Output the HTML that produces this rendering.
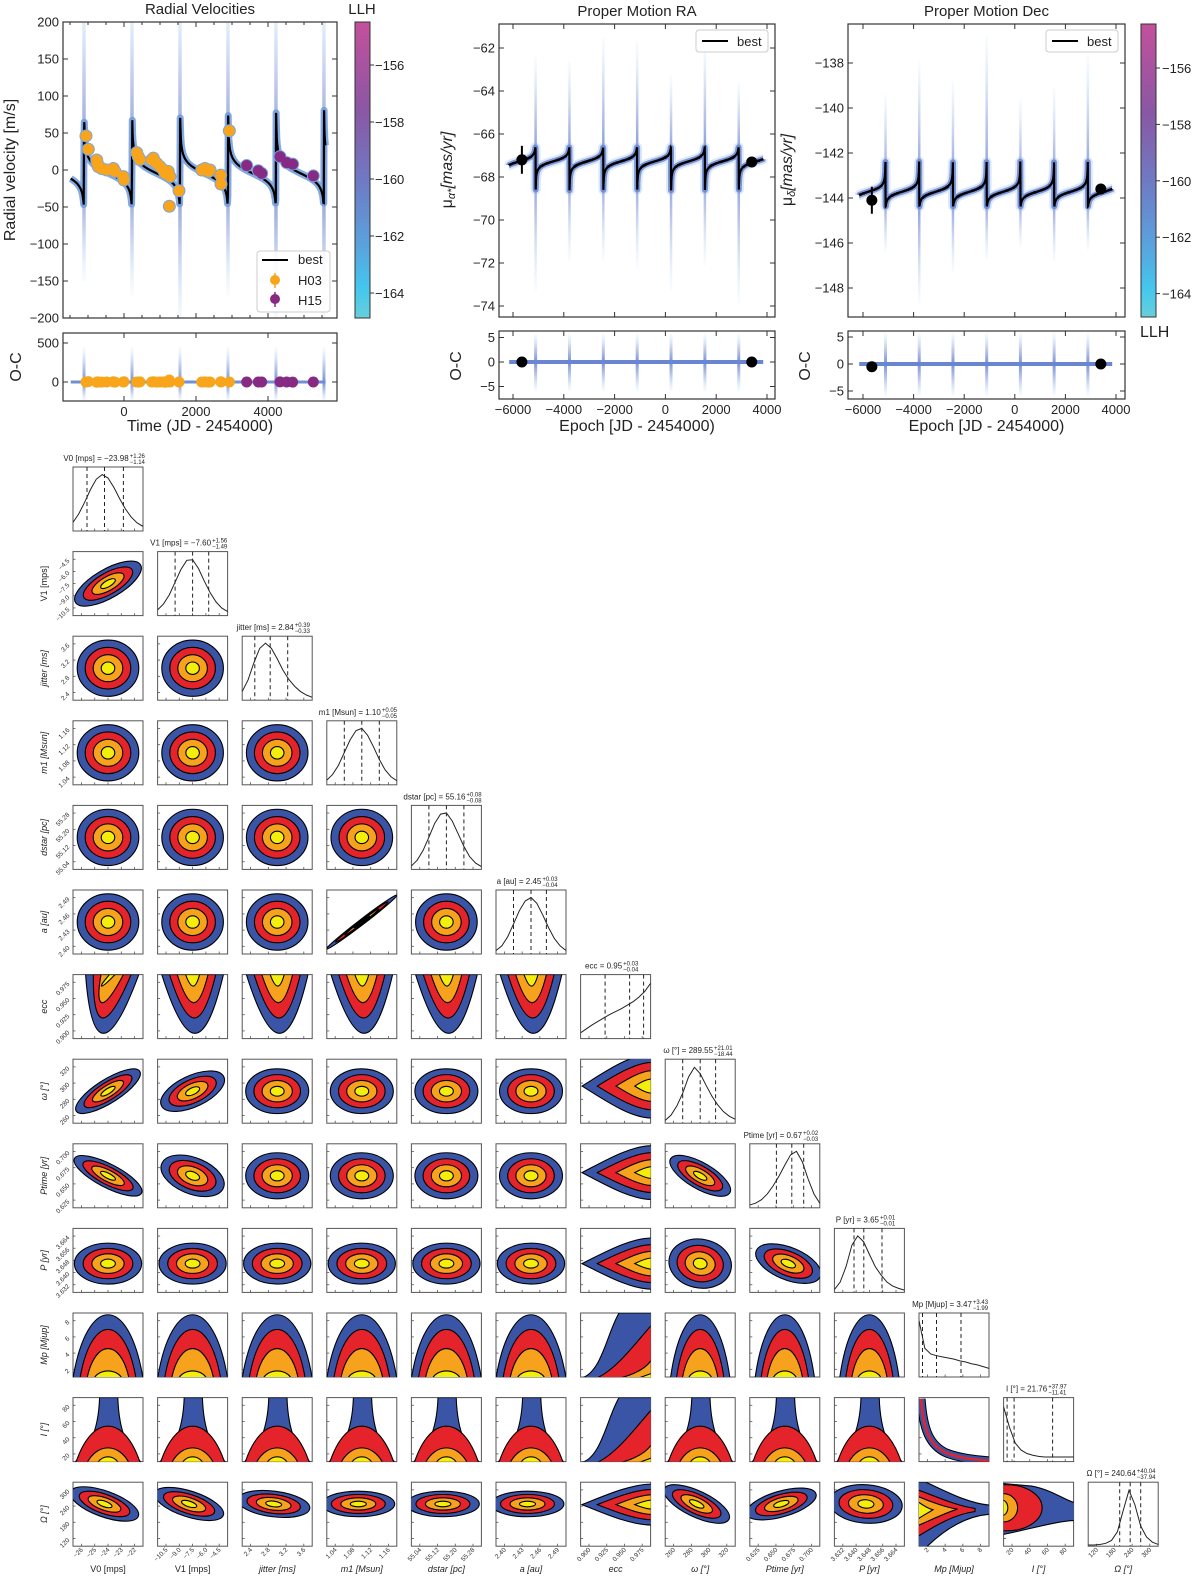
<!DOCTYPE html>
<html><head><meta charset="utf-8"><style>
html,body{margin:0;padding:0;background:#fff;}
svg{display:block;font-family:"Liberation Sans","DejaVu Sans",sans-serif;}
</style></head><body>
<svg id="fig" width="1200" height="1578" viewBox="0 0 1200 1578" xmlns="http://www.w3.org/2000/svg">
<defs>
<linearGradient id="cbar" x1="0" y1="0" x2="0" y2="1">
<stop offset="0" stop-color="#c4509c"/><stop offset="0.3" stop-color="#8a57a4"/><stop offset="0.55" stop-color="#6e7cc6"/><stop offset="0.75" stop-color="#5aa2dc"/><stop offset="0.9" stop-color="#44c6ee"/><stop offset="1" stop-color="#66d0dc"/></linearGradient>
<linearGradient id="gUp" x1="0" y1="1" x2="0" y2="0"><stop offset="0" stop-color="#5f7fd0" stop-opacity="0.85"/><stop offset="0.45" stop-color="#6f86d0" stop-opacity="0.45"/><stop offset="1" stop-color="#8fc8f0" stop-opacity="0.05"/></linearGradient>
<linearGradient id="gDown" x1="0" y1="0" x2="0" y2="1"><stop offset="0" stop-color="#5f7fd0" stop-opacity="0.85"/><stop offset="0.45" stop-color="#6f86d0" stop-opacity="0.45"/><stop offset="1" stop-color="#8fc8f0" stop-opacity="0.05"/></linearGradient>
<clipPath id="clipRV"><rect x="63" y="22" width="274" height="296"/></clipPath>
<clipPath id="clipRVoc"><rect x="63" y="333" width="274" height="68"/></clipPath>
<clipPath id="clipRA"><rect x="499" y="24" width="276" height="293"/></clipPath>
<clipPath id="clipRAoc"><rect x="499" y="331" width="276" height="68"/></clipPath>
<clipPath id="clipDec"><rect x="848" y="24" width="277" height="293"/></clipPath>
<clipPath id="clipDecoc"><rect x="848" y="331" width="277" height="68"/></clipPath>
</defs>
</svg>
<script>
// ---------------- data ----------------
const h03Time=[-1056,-991,-759,-741,-713,-620,-481,-296,-250,-19,0,352,398,444,769,815,907,1000,1093,1139,1231,1278,1259,1528,2158,2250,2343,2389,2685,2694,2926];
const h03RV=[46,28,13.5,9,4.5,2,0,2,-2,-9,-13.5,23.5,18,14,13.5,16,9,4.5,0,-4.5,-2,-9,-49,-28,0,2,-2,0,-7,-19,53];
const h03Res=[0,5,-3,2,0,-2,0,4,-1,0,3,0,-2,1,0,3,-1,0,2,-3,1,0,25,0,0,2,-1,0,3,0,0];
const h15Time=[3408,3731,3824,4333,4519,4685,5259];
const h15RV=[6,-1,-4.5,18,10,8,-8];
const h15Res=[0,0,0,2,0,-2,0];
const orbitPeriod=[1333];
const periTime=[222];
const orbitEcc=[0.95];
const rvK=[65], rvOmega=[290], rvOffset=[-3];
const raK=[1.0], raOmega=[110], raBase=[-67.3];
const decK=[1.0], decOmega=[70], decBase=[-143.7];
const rvSpikeTop=[260,260,260,260,260,260];
const rvSpikeBottom=[-150,-170,-210,-170,-210,-210];
const raSpikeTop=[-62.4,-62.6,-61.5,-61.7,-63.3,-61.8,-63.6];
const raSpikeBottom=[-73.3,-71.9,-71.9,-72.2,-73.3,-72.1,-73.9];
const decSpikeTop=[-139.4,-137.9,-138.8,-136.8,-139.6,-139.1,-137.6];
const decSpikeBottom=[-146.4,-148.7,-147.3,-146.7,-146.2,-146.8,-146.3];
const pmEpoch=[-5650,3400];
const raObs=[-67.2,-67.3], raErr=[0.65,0.05], raRes=[0,0];
const decObs=[-144.1,-143.6], decErr=[0.6,0.05], decRes=[-0.5,0];
const rvXTicks=[0,2000,4000], rvYTicks=[200,150,100,50,0,-50,-100,-150,-200], rvOcTicks=[500,0];
const pmXTicks=[-6000,-4000,-2000,0,2000,4000];
const raYTicks=[-62,-64,-66,-68,-70,-72,-74], decYTicks=[-138,-140,-142,-144,-146,-148], ocTicks=[5,0,-5];
const llhTicks=[-156,-158,-160,-162,-164];

// ---------------- helpers ----------------
const NS='http://www.w3.org/2000/svg';
const svg=document.getElementById('fig');
function mk(tag,attrs,parent){const e=document.createElementNS(NS,tag);for(const k in attrs)e.setAttribute(k,attrs[k]);(parent||svg).appendChild(e);return e;}
function txt(x,y,s,attrs,parent){const e=mk('text',Object.assign({x:x,y:y},attrs),parent);e.textContent=s;return e;}
function kep(t,P,tp,e,wdeg,K){
  let M=2*Math.PI*(t-tp)/P; M=((M%(2*Math.PI))+2*Math.PI)%(2*Math.PI);
  let E=M+e*Math.sin(M)*0.85;
  if(M<0.3)E=Math.cbrt(6*M); if(M>2*Math.PI-0.3)E=2*Math.PI-Math.cbrt(6*(2*Math.PI-M));
  for(let i=0;i<60;i++){E=E-(E-e*Math.sin(E)-M)/(1-e*Math.cos(E));}
  const nu=2*Math.atan2(Math.sqrt(1+e)*Math.sin(E/2),Math.sqrt(1-e)*Math.cos(E/2));
  const w=wdeg*Math.PI/180;
  return K*(Math.cos(nu+w)+e*Math.cos(w));
}
function frame(x,y,w,h,name){const r=mk('rect',{x:x,y:y,width:w,height:h,fill:'none',stroke:'#333','stroke-width':1.2});

return r;}

// ---------------- axis functions ----------------
const rvX=t=>124+t*0.036, rvY=v=>170-v*0.74, rvOcY=v=>382-v*0.078;
const raX=t=>513+(t+6000)*0.0254, raY=v=>48-(v+62)*21.5, raOcY=v=>362-v*4.9;
const decX=t=>863+(t+6000)*0.0253, decY=v=>63-(v+138)*22.5, decOcY=v=>364-v*5.4;

function modelPts(fx,fy,t0,t1,step,K,w,base){const pts=[];for(let t=t0;t<=t1;t+=step){pts.push(fx(t).toFixed(1)+','+fy(base+kep(t,orbitPeriod[0],periTime[0],orbitEcc[0],w,K)).toFixed(1));}return pts.join(' ');}
function peris(t0,t1){const a=[];let t=periTime[0];while(t>t0)t-=orbitPeriod[0];while(t<t1){if(t>=t0)a.push(t);t+=orbitPeriod[0];}return a;}

function drawSpikes(g,fx,fy,tops,bottoms,base,t0,t1,wd){
  peris(t0,t1).forEach((tp,i)=>{
    const x=fx(tp), yb=fy(base);
    const up=mk('rect',{x:x-wd/2,y:fy(tops[i%tops.length]),width:wd,height:Math.max(0,yb-fy(tops[i%tops.length])),fill:'url(#gUp)'},g);
    
    
    const dn=mk('rect',{x:x-wd/2,y:yb,width:wd,height:Math.max(0,fy(bottoms[i%bottoms.length])-yb),fill:'url(#gDown)'},g);
    
    
  });
}
function ticksX(vals,fx,y0,y1,labels,ly,parent){vals.forEach(v=>{const x=fx(v);
  mk('line',{x1:x,y1:y1,x2:x,y2:y1-5,stroke:'#333'},parent);mk('line',{x1:x,y1:y0,x2:x,y2:y0+5,stroke:'#333'},parent);
  if(labels){const t=txt(x,ly,String(v).replace('-','\u2212'),{'font-size':13,'text-anchor':'middle',fill:'#222'},parent);
  
  }});}
function ticksY(vals,fy,x0,x1,parent,fs){vals.forEach(v=>{const y=fy(v);
  mk('line',{x1:x0,y1:y,x2:x0+5,y2:y,stroke:'#333'},parent);mk('line',{x1:x1,y1:y,x2:x1-5,y2:y,stroke:'#333'},parent);
  const t=txt(x0-4,y+4.5,String(v).replace('-','\u2212'),{'font-size':fs||13,'text-anchor':'end',fill:'#222'},parent);
  
  });}
function dot(g,x,y,r,c,name){const d=mk('circle',{cx:x,cy:y,r:r,fill:c},g);
  
  return d;}

// ================= RV panel =================
const rvG=mk('g',{});


const rvT=txt(200,14,'Radial Velocities',{'font-size':15,'text-anchor':'middle',fill:'#222'},rvG);


const rvClip=mk('g',{'clip-path':'url(#clipRV)'},rvG);
drawSpikes(rvClip,rvX,rvY,rvSpikeTop,rvSpikeBottom,rvOffset[0],-1700,5900,3.5);
const rvPts=modelPts(rvX,rvY,-1480,5600,9,rvK[0],rvOmega[0],rvOffset[0]);
const rvHalo=mk('polyline',{points:rvPts,fill:'none',stroke:'#6f9bdc','stroke-width':7,'stroke-opacity':0.85,'stroke-linejoin':'round'},rvClip);


const rvBest=mk('polyline',{points:rvPts,fill:'none',stroke:'#000','stroke-width':2.2},rvClip);


h03Time.forEach((t,i)=>{dot(rvClip,rvX(t),rvY(h03RV[i]),6.5,'#7aa6de','h03-point-halo');});
h15Time.forEach((t,i)=>{dot(rvClip,rvX(t),rvY(h15RV[i]),6.5,'#7aa6de','h15-point-halo');});
h03Time.forEach((t,i)=>{dot(rvClip,rvX(t),rvY(h03RV[i]),5.5,'#f8a51c','h03-point');});
h15Time.forEach((t,i)=>{dot(rvClip,rvX(t),rvY(h15RV[i]),5.5,'#862a84','h15-point');});
frame(63,22,274,296,'rv-axes-frame');
ticksX(rvXTicks,rvX,22,318,false,0,rvG);
[-1500,-1000,-500,500,1000,1500,2500,3000,3500,4500,5000,5500].forEach(v=>{const x=rvX(v);mk('line',{x1:x,y1:318,x2:x,y2:315,stroke:'#333'},rvG);mk('line',{x1:x,y1:22,x2:x,y2:25,stroke:'#333'},rvG);});
ticksY(rvYTicks,rvY,63,337,rvG);
const rvYL=txt(0,0,'Radial velocity [m/s]',{'font-size':16,'text-anchor':'middle',fill:'#222',transform:'translate(15,170) rotate(-90)'},rvG);


const rvLeg=mk('g',{},rvG);


mk('rect',{x:257,y:251,width:73,height:61,rx:3,fill:'#fff','fill-opacity':0.85,stroke:'#ccc'},rvLeg);
mk('line',{x1:262,y1:260,x2:288,y2:260,stroke:'#000','stroke-width':2},rvLeg);
txt(298,264,'best',{'font-size':13,fill:'#222'},rvLeg);
mk('line',{x1:275,y1:273,x2:275,y2:288,stroke:'#f8a51c','stroke-width':1.5},rvLeg);dot(rvLeg,275,280,5,'#f8a51c','legend-h03-marker');
txt(298,285,'H03',{'font-size':13,fill:'#222'},rvLeg);
mk('line',{x1:275,y1:292,x2:275,y2:307,stroke:'#862a84','stroke-width':1.5},rvLeg);dot(rvLeg,275,299,5,'#862a84','legend-h15-marker');
txt(298,305,'H15',{'font-size':13,fill:'#222'},rvLeg);
const cb1=mk('rect',{x:355,y:22,width:15,height:296,fill:'url(#cbar)',stroke:'#333'},rvG);


const cbY1=v=>65+(-156-v)*28.5;
llhTicks.forEach(v=>{const y=cbY1(v);mk('line',{x1:370,y1:y,x2:374,y2:y,stroke:'#333'},rvG);const t=txt(375,y+5,String(v).replace('-','\u2212'),{'font-size':13,fill:'#222'},rvG);

});
const llh1=txt(362,14,'LLH',{'font-size':15,'text-anchor':'middle',fill:'#222'},rvG);


const rvOcClip=mk('g',{'clip-path':'url(#clipRVoc)'},rvG);
drawSpikes(rvOcClip,rvX,rvOcY,[450],[-250],0,-1700,5900,3);
const ocLine=mk('line',{x1:rvX(-1480),y1:rvOcY(0),x2:rvX(5600),y2:rvOcY(0),stroke:'#6f8fd6','stroke-width':3},rvOcClip);


h03Time.forEach((t,i)=>{dot(rvOcClip,rvX(t),rvOcY(h03Res[i]),5.5,'#f8a51c','h03-residual');});
h15Time.forEach((t,i)=>{dot(rvOcClip,rvX(t),rvOcY(h15Res[i]),5.5,'#862a84','h15-residual');});
frame(63,333,274,68,'rv-oc-axes-frame');
ticksX(rvXTicks,rvX,333,401,true,416,rvG);
ticksY(rvOcTicks,rvOcY,63,337,rvG);
const rvOcL=txt(0,0,'O-C',{'font-size':16,'text-anchor':'middle',fill:'#222',transform:'translate(21,367) rotate(-90)'},rvG);


const rvXL=txt(200,431,'Time (JD - 2454000)',{'font-size':16,'text-anchor':'middle',fill:'#222'},rvG);



// ================= PM panels =================
function pmPanel(o){
  const g=mk('g',{});
  
  
  const tt=txt((o.x0+o.x1)/2,16,o.title,{'font-size':15,'text-anchor':'middle',fill:'#222'},g);
  
  
  const c=mk('g',{'clip-path':'url(#'+o.clip+')'},g);
  drawSpikes(c,o.fx,o.fy,o.tops,o.bottoms,o.base,-6200,3900,2.5);
  const pts=modelPts(o.fx,o.fy,-6150,3850,3,o.K,o.w,o.base);
  const b2=mk('polyline',{points:pts,fill:'none',stroke:'#8fb6ea','stroke-width':10,'stroke-opacity':0.3,'stroke-linejoin':'round'},c);
  
  
  const b1=mk('polyline',{points:pts,fill:'none',stroke:'#6a86d2','stroke-width':6,'stroke-opacity':0.85,'stroke-linejoin':'round'},c);
  
  
  const best=mk('polyline',{points:pts,fill:'none',stroke:'#000','stroke-width':2.2},c);
  
  
  pmEpoch.forEach((t,i)=>{const x=o.fx(t);
    if(o.err[i]>0.1){const eb=mk('line',{x1:x,y1:o.fy(o.obs[i]+o.err[i]),x2:x,y2:o.fy(o.obs[i]-o.err[i]),stroke:'#000','stroke-width':2},c);
    
    }
    dot(c,x,o.fy(o.obs[i]),5.5,'#000','gaia-hipparcos-point');});
  frame(o.x0,24,o.x1-o.x0,293,'axes-frame');
  ticksY(o.yt,o.fy,o.x0,o.x1,g);
  const yl=txt(0,0,'\u03bc',{'font-size':16,'text-anchor':'middle',fill:'#222',transform:'translate('+o.ylx+',170) rotate(-90)'},g);
  const s1=mk('tspan',{'font-size':11,dy:3,'font-style':'italic'},yl);s1.textContent=o.sub;
  const s2=mk('tspan',{dy:-3,'font-style':'italic'},yl);s2.textContent='[mas/yr]';
  
  
  const lg=mk('g',{},g);
  
  
  mk('rect',{x:o.x1-79,y:30,width:72,height:22,rx:3,fill:'#fff','fill-opacity':0.9,stroke:'#ccc'},lg);
  mk('line',{x1:o.x1-73,y1:41,x2:o.x1-47,y2:41,stroke:'#000','stroke-width':2},lg);
  txt(o.x1-38,46,'best',{'font-size':13,fill:'#222'},lg);
  const oc=mk('g',{'clip-path':'url(#'+o.clipoc+')'},g);
  drawSpikes(oc,o.fx,o.ocy,[5.8],[-6],0,-6200,3900,3);
  const ob=mk('line',{x1:o.fx(-6150),y1:o.ocy(0),x2:o.fx(3850),y2:o.ocy(0),stroke:'#6a86d2','stroke-width':4},oc);
  
  
  pmEpoch.forEach((t,i)=>{dot(oc,o.fx(t),o.ocy(o.res[i]),5.5,'#000','residual-point');});
  frame(o.x0,331,o.x1-o.x0,68,'oc-axes-frame');
  ticksX(pmXTicks,o.fx,331,399,true,414,g);
  pmXTicks.forEach(v=>{const x=o.fx(v);mk('line',{x1:x,y1:317,x2:x,y2:312,stroke:'#333'},g);mk('line',{x1:x,y1:24,x2:x,y2:29,stroke:'#333'},g);});
  ticksY(ocTicks,o.ocy,o.x0,o.x1,g);
  const ol=txt(0,0,'O-C',{'font-size':16,'text-anchor':'middle',fill:'#222',transform:'translate('+(o.x0-38)+',366) rotate(-90)'},g);
  
  
  const xl=txt((o.x0+o.x1)/2,431,'Epoch [JD - 2454000)',{'font-size':16,'text-anchor':'middle',fill:'#222'},g);
  
  
  return g;
}
pmPanel({name:'proper-motion-ra-panel',title:'Proper Motion RA',x0:499,x1:775,fx:raX,fy:raY,ocy:raOcY,clip:'clipRA',clipoc:'clipRAoc',tops:raSpikeTop,bottoms:raSpikeBottom,base:raBase[0],K:raK[0],w:raOmega[0],obs:raObs,err:raErr,res:raRes,yt:raYTicks,ylx:452,sub:'\u03b1*'});
pmPanel({name:'proper-motion-dec-panel',title:'Proper Motion Dec',x0:848,x1:1125,fx:decX,fy:decY,ocy:decOcY,clip:'clipDec',clipoc:'clipDecoc',tops:decSpikeTop,bottoms:decSpikeBottom,base:decBase[0],K:decK[0],w:decOmega[0],obs:decObs,err:decErr,res:decRes,yt:decYTicks,ylx:792,sub:'\u03b4'});
const cb2=mk('rect',{x:1141,y:24,width:15,height:293,fill:'url(#cbar)',stroke:'#333'});


const cbY2=v=>68+(-156-v)*28.2;
llhTicks.forEach(v=>{const y=cbY2(v);mk('line',{x1:1156,y1:y,x2:1160,y2:y,stroke:'#333'});const t=txt(1162,y+5,String(v).replace('-','\u2212'),{'font-size':13,fill:'#222'});

});
const llh2=txt(1140,337,'LLH',{'font-size':16,fill:'#222'});



// ================= corner plot =================
const paramNames=['V0 [mps]','V1 [mps]','jitter [ms]','m1 [Msun]','dstar [pc]','a [au]','ecc','\u03c9 [\u00b0]','Ptime [yr]','P [yr]','Mp [Mjup]','I [\u00b0]','\u03a9 [\u00b0]'];
const medians=['\u221223.98','\u22127.60','2.84','1.10','55.16','2.45','0.95','289.55','0.67','3.65','3.47','21.76','240.64'];
const errPlus=['+1.26','+1.56','+0.39','+0.05','+0.08','+0.03','+0.03','+21.01','+0.02','+0.01','+3.43','+37.97','+40.04'];
const errMinus=['\u22121.14','\u22121.49','\u22120.33','\u22120.05','\u22120.08','\u22120.04','\u22120.04','\u221218.44','\u22120.03','\u22120.01','\u22121.99','\u221211.41','\u221237.94'];
const tickLabels=[['\u221226','\u221225','\u221224','\u221223','\u221222'],['\u221210.5','\u22129.0','\u22127.5','\u22126.0','\u22124.5'],['2.4','2.8','3.2','3.6'],['1.04','1.08','1.12','1.16'],['55.04','55.12','55.20','55.28'],['2.40','2.43','2.46','2.49'],['0.900','0.925','0.950','0.975'],['260','280','300','320'],['0.625','0.650','0.675','0.700'],['3.632','3.640','3.648','3.656','3.664'],['2','4','6','8'],['20','40','60','80'],['120','180','240','300']];
const histV0=[0.15,0.3,0.5,0.72,0.9,0.98,0.92,0.76,0.56,0.38,0.24,0.14,0.08];
const histV1=[0.1,0.2,0.36,0.58,0.8,0.96,0.97,0.82,0.6,0.4,0.24,0.13,0.07];
const histJit=[0.15,0.35,0.65,0.9,0.99,0.9,0.72,0.52,0.36,0.24,0.15,0.09,0.05];
const histM1=[0.08,0.18,0.34,0.56,0.78,0.94,0.98,0.86,0.66,0.44,0.26,0.14,0.07];
const histD=[0.06,0.16,0.33,0.56,0.8,0.96,0.98,0.84,0.62,0.4,0.22,0.11,0.05];
const histA=[0.06,0.14,0.3,0.52,0.75,0.92,0.98,0.88,0.68,0.46,0.27,0.14,0.06];
const histEcc=[0.1,0.17,0.24,0.3,0.36,0.42,0.47,0.52,0.58,0.64,0.72,0.82,0.96];
const histOm=[0.05,0.14,0.3,0.52,0.8,0.97,0.86,0.66,0.47,0.32,0.2,0.12,0.07];
const histPt=[0.05,0.08,0.14,0.24,0.38,0.55,0.74,0.92,0.98,0.8,0.5,0.24,0.08];
const histP=[0.05,0.18,0.45,0.82,0.98,0.88,0.66,0.45,0.3,0.18,0.11,0.07,0.04];
const histMp=[0.98,0.5,0.4,0.37,0.35,0.33,0.31,0.28,0.26,0.23,0.21,0.18,0.15];
const histI=[0.95,0.6,0.32,0.2,0.14,0.11,0.09,0.08,0.08,0.08,0.08,0.08,0.08];
const histOmega=[0.02,0.02,0.03,0.05,0.1,0.25,0.62,0.97,0.72,0.35,0.16,0.07,0.03];
const hists=[histV0,histV1,histJit,histM1,histD,histA,histEcc,histOm,histPt,histP,histMp,histI,histOmega];
const q16=[0.2,0.25,0.18,0.25,0.25,0.25,0.35,0.25,0.38,0.28,0.05,0.05,0.45];
const q50=[0.45,0.5,0.4,0.5,0.5,0.5,0.7,0.5,0.6,0.42,0.25,0.15,0.6];
const q84=[0.72,0.73,0.65,0.75,0.75,0.72,0.9,0.72,0.77,0.68,0.6,0.7,0.75];

const CX=j=>73+84.6*j, CY=i=>467+84.6*i, CW=70, CH=64;
const cols=['#3a55a6','#e5232a','#f6a21c','#f4ee0c'];
const scl=[1,0.74,0.48,0.22];

function cellSvg(i,j){const s=mk('svg',{x:CX(j),y:CY(i),width:CW,height:CH,viewBox:'0 0 1 1',preserveAspectRatio:'none',overflow:'hidden'});return s;}
function blob(s,d,k){const p=mk('path',{d:d,fill:cols[k],stroke:'#000','stroke-width':1.1,'vector-effect':'non-scaling-stroke'},s);return p;}
function ell(s,cx,cy,rx,ry,a){for(let k=0;k<4;k++){mk('ellipse',{cx:cx,cy:cy,rx:rx*scl[k],ry:ry*scl[k],transform:'rotate('+a+' '+cx+' '+cy+')',fill:cols[k],stroke:'#000','stroke-width':1.1,'vector-effect':'non-scaling-stroke'},s);}}
function ushape(s,bx,tilt){const hw=[.44,.33,.22,.1],dp=[.92,.68,.44,.18];for(let k=0;k<4;k++){const a=.5-hw[k],b=.5+hw[k];blob(s,'M'+(a+tilt*0.4)+',0 C'+(bx-hw[k]*0.2)+','+dp[k]*1.33+' '+(bx+hw[k]*0.4)+','+dp[k]*1.33+' '+b+',0 Z',k);}}
function mountain(s,narrow){const hw=[.5,.4,.3,.2],h=[.98,.75,.45,.1];for(let k=0;k<4;k++){const w=hw[k]*(narrow?0.85:1);blob(s,'M'+(.5-w)+',1.02 C'+(.5-w*0.6)+','+(1-h[k]*1.33)+' '+(.5+w*0.6)+','+(1-h[k]*1.33)+' '+(.5+w)+',1.02 Z',k);}}
function bottle(s){blob(s,'M0.02,1.02 C0.2,0.8 0.36,0.6 0.38,0 L0.64,0 C0.66,0.6 0.8,0.8 0.98,1.02 Z',0);const hw=[0,.46,.3,.15],h=[0,.56,.22,.08];for(let k=1;k<4;k++){blob(s,'M'+(.5-hw[k])+',1.02 C'+(.5-hw[k]*0.5)+','+(1-h[k]*1.33)+' '+(.5+hw[k]*0.5)+','+(1-h[k]*1.33)+' '+(.5+hw[k])+',1.02 Z',k);}}
function band(s){blob(s,'M0,1.02 C0.3,0.95 0.38,0.3 0.55,0 L1.02,0 L1.02,1.02 Z',0);blob(s,'M0.22,1.02 C0.5,0.9 0.8,0.45 1.02,0.18 L1.02,1.02 Z',1);blob(s,'M0.55,1.02 C0.8,0.95 0.95,0.85 1.02,0.72 L1.02,1.02 Z',2);blob(s,'M0.82,1.02 L1.02,0.94 L1.02,1.02 Z',3);}
function wedge(s,cy,sp){for(let k=0;k<4;k++){const x0=1-0.98*scl[k]*(k==0?1:1.05),d=sp*scl[k];blob(s,'M'+x0+','+cy+' C'+(x0+.3*scl[k])+','+(cy-d*0.4)+' '+(1-.3*scl[k])+','+(cy-d)+' 1.02,'+(cy-d)+' L1.02,'+(cy+d)+' C'+(1-.3*scl[k])+','+(cy+d)+' '+(x0+.3*scl[k])+','+(cy+d*0.4)+' '+x0+','+cy+' Z',k);}}
function lcurve(s){const d='M0.03,0.02 C0.06,0.5 0.15,0.75 0.4,0.87 C0.6,0.95 0.8,0.97 1.02,0.99';
  mk('path',{d:d,fill:'none',stroke:'#000','stroke-width':9,'vector-effect':'non-scaling-stroke'},s);
  mk('path',{d:d,fill:'none',stroke:'#3a55a6','stroke-width':7,'vector-effect':'non-scaling-stroke'},s);
  mk('path',{d:d,fill:'none',stroke:'#e5232a','stroke-width':2.5,'vector-effect':'non-scaling-stroke'},s);}
function horn(s){blob(s,'M-0.02,0 L0.1,0 C0.4,0.15 0.7,0.33 1.02,0.36 L1.02,0.5 C0.7,0.52 0.4,0.7 0.1,1.02 L-0.02,1.02 Z',0);
  blob(s,'M-0.02,0.12 C0.2,0.2 0.5,0.36 0.8,0.41 L0.8,0.46 C0.5,0.5 0.2,0.7 -0.02,0.85 Z',1);
  blob(s,'M-0.02,0.22 C0.15,0.3 0.4,0.4 0.55,0.42 C0.4,0.47 0.15,0.6 -0.02,0.68 Z',2);
  blob(s,'M-0.02,0.3 C0.05,0.36 0.15,0.42 0.2,0.43 C0.15,0.47 0.05,0.52 -0.02,0.58 Z',3);}
function fan(s){blob(s,'M-0.02,0.02 L0.4,0.06 C0.7,0.12 0.9,0.3 1.02,0.32 L1.02,0.6 C0.8,0.6 0.5,0.7 -0.02,0.82 Z',0);
  mk('ellipse',{cx:0.05,cy:0.4,rx:0.5,ry:0.36,fill:'#e5232a',stroke:'#000','stroke-width':1.1,'vector-effect':'non-scaling-stroke'},s);
  mk('ellipse',{cx:0.0,cy:0.4,rx:0.2,ry:0.22,fill:'#f6a21c',stroke:'#000','stroke-width':1.1,'vector-effect':'non-scaling-stroke'},s);
  mk('ellipse',{cx:-0.02,cy:0.4,rx:0.08,ry:0.12,fill:'#f4ee0c',stroke:'#000','stroke-width':1.1,'vector-effect':'non-scaling-stroke'},s);}

function spec(i,j){
  if(i===6){return j===0?['u',0.35,0.3]:['u',0.5,0];}
  if(i===10){if(j===6)return['band'];if(j>=7)return['mountain',1];return['mountain',0];}
  if(i===11){if(j===6)return['band'];if(j===10)return['lcurve'];return['bottle'];}
  if(j===6){return['wedge',{7:0.42,8:0.45,9:0.55,12:0.35}[i],{7:0.5,8:0.42,9:0.4,12:0.32}[i]];}
  if(i===12){if(j===10)return['horn'];if(j===11)return['fan'];
    const a={0:22,1:20,2:8,7:28,8:-18,9:5}[j]||0;return['e',0.45,0.34,0.52,j===9?0.3:0.2,a];}
  if(i===5&&j===3)return['e',0.5,0.5,0.66,0.04,-40];
  if(i===1)return['e',0.5,0.5,0.55,0.22,-33];
  if(i===7){if(j===0)return['e',0.5,0.5,0.55,0.18,-35];if(j===1)return['e',0.5,0.5,0.5,0.24,-28];return['e',0.5,0.5,0.45,0.35,0];}
  if(i===8){if(j===0)return['e',0.5,0.5,0.55,0.18,30];if(j===1)return['e',0.5,0.5,0.48,0.28,25];if(j===7)return['e',0.5,0.5,0.5,0.2,33];return['e',0.5,0.5,0.45,0.36,0];}
  if(i===9){if(j===7)return['e',0.5,0.55,0.45,0.38,15];if(j===8)return['e',0.55,0.55,0.5,0.25,25];return['e',0.5,0.55,0.48,0.32,0];}
  return['e',0.5,0.5,0.44,0.44,0];
}
const corner=mk('g',{});


for(let i=0;i<13;i++){for(let j=0;j<=i;j++){
  const x=CX(j),y=CY(i);
  if(i===j){
    const s=cellSvg(i,j);
    
    
    const h=hists[j];const pts=h.map((v,k)=>(k/(h.length-1)).toFixed(3)+','+(1-v*0.9).toFixed(3)).join(' ');
    const pl=mk('polyline',{points:pts,fill:'none',stroke:'#222','stroke-width':1,'vector-effect':'non-scaling-stroke'},s);
    
    
    [q16[j],q50[j],q84[j]].forEach(q=>{const l=mk('line',{x1:q,y1:0,x2:q,y2:1,stroke:'#222','stroke-width':1,'stroke-dasharray':'4 3','vector-effect':'non-scaling-stroke'},s);
    
    });
    const tt=txt(x+CW/2-12,y-6,paramNames[j]+' = '+medians[j],{'font-size':8,'text-anchor':'middle',fill:'#222'},corner);
    
    
    const tw=tt.getComputedTextLength?tt.getComputedTextLength():80;
    const ex=x+CW/2-12+tw/2+1;
    const sp=txt(ex,y-9,errPlus[j],{'font-size':6,fill:'#222'},corner);
    
    
    const sm=txt(ex,y-3,errMinus[j],{'font-size':6,fill:'#222'},corner);
    
    
  } else {
    const s=cellSvg(i,j);
    
    
    const sp=spec(i,j);
    if(sp[0]==='e')ell(s,sp[1],sp[2],sp[3],sp[4],sp[5]);
    else if(sp[0]==='u')ushape(s,sp[1],sp[2]);
    else if(sp[0]==='mountain')mountain(s,sp[1]);
    else if(sp[0]==='bottle')bottle(s);
    else if(sp[0]==='band')band(s);
    else if(sp[0]==='wedge')wedge(s,sp[1],sp[2]);
    else if(sp[0]==='lcurve')lcurve(s);
    else if(sp[0]==='horn')horn(s);
    else if(sp[0]==='fan')fan(s);
  }
  mk('rect',{x:x,y:y,width:CW,height:CH,fill:'none',stroke:'#555','stroke-width':1},corner);
  const nx=tickLabels[j].length;
  for(let k=0;k<nx;k++){const tx=x+CW*(0.12+0.76*k/(nx-1));mk('line',{x1:tx,y1:y+CH,x2:tx,y2:y+CH-2.5,stroke:'#555','stroke-width':0.8},corner);}
  if(i!==j){const ny=tickLabels[i].length;for(let k=0;k<ny;k++){const ty=y+CH*(0.88-0.76*k/(ny-1));mk('line',{x1:x,y1:ty,x2:x+2.5,y2:ty,stroke:'#555','stroke-width':0.8},corner);}}
}}
for(let i=1;i<13;i++){
  const x=CX(0),y=CY(i),ny=tickLabels[i].length;
  tickLabels[i].forEach((lab,k)=>{const ty=y+CH*(0.88-0.76*k/(ny-1));const t=txt(0,0,lab,{'font-size':6.5,'text-anchor':'end',fill:'#333',transform:'translate('+(x-3)+','+(ty+2)+') rotate(-45)'},corner);
  
  });
  const yl=txt(0,0,paramNames[i],{'font-size':9,'text-anchor':'middle',fill:'#222','font-style':(i>=2)?'italic':'normal',transform:'translate(47,'+(y+CH/2)+') rotate(-90)'},corner);
  
  
}
for(let j=0;j<13;j++){
  const x=CX(j),y=CY(12)+CH,nx=tickLabels[j].length;
  tickLabels[j].forEach((lab,k)=>{const tx=x+CW*(0.12+0.76*k/(nx-1));const t=txt(0,0,lab,{'font-size':6.5,'text-anchor':'end',fill:'#333',transform:'translate('+(tx+2)+','+(y+4)+') rotate(-45)'},corner);
  
  });
  const xl=txt(x+CW/2,1572,paramNames[j],{'font-size':9,'text-anchor':'middle',fill:'#222','font-style':(j>=2)?'italic':'normal'},corner);
  
  
}
</script>
</body></html>
